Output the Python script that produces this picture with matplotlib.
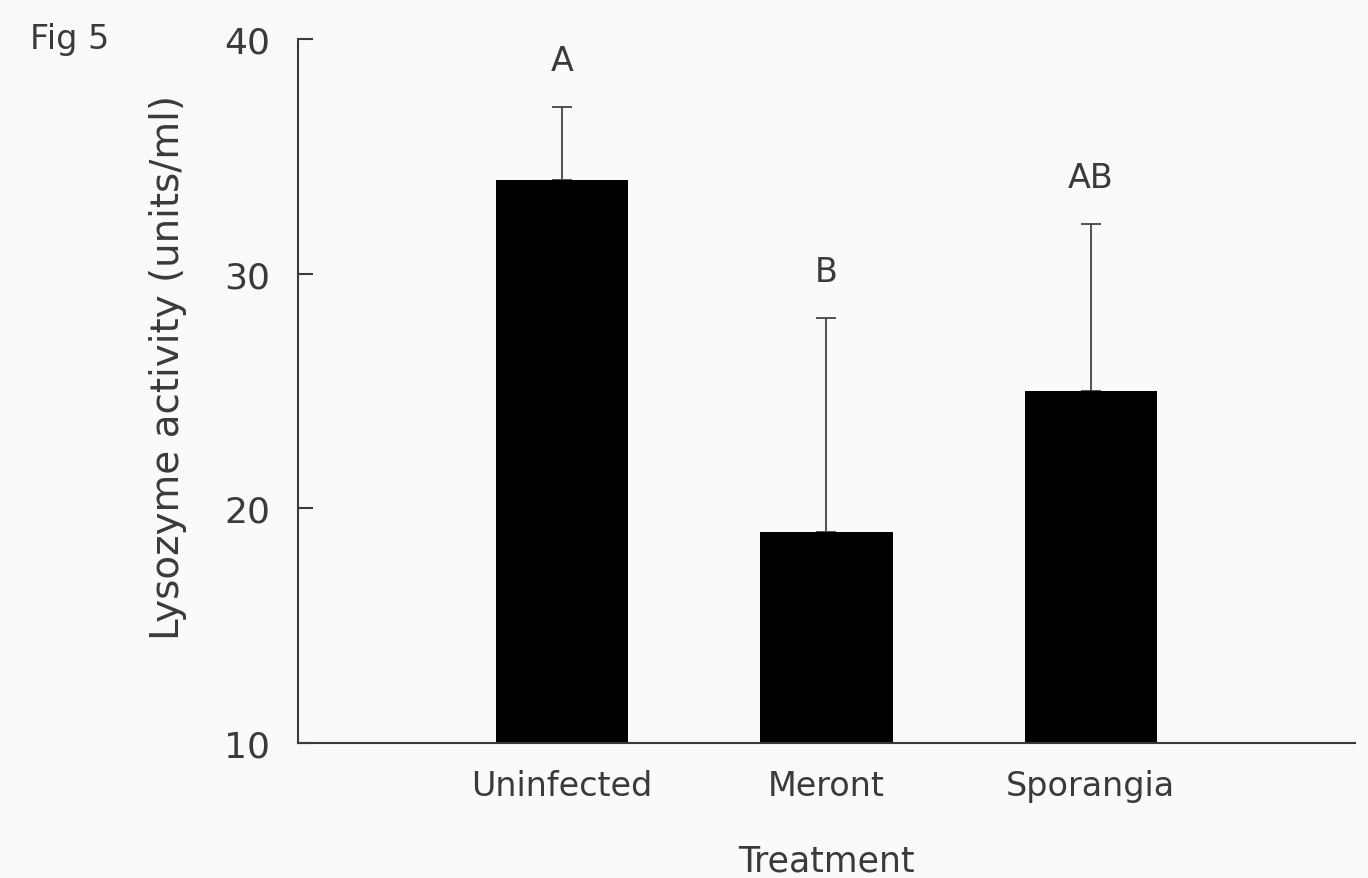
import numpy as np
import matplotlib
matplotlib.use("Agg")
from matplotlib import pyplot as plt

# data
treatments = ["Uninfected", "Meront", "Sporangia"]
lysozyme = [34.0, 19.0, 25.0]
err_up = [3.1, 9.1, 7.1]
letters = ["A", "B", "AB"]
yticks = [10, 20, 30, 40]

plt.rcParams['font.family'] = ['DejaVu Sans']
ink = "#3a3a3a"
bg = "#fbf9fa"

fig = plt.figure(figsize=(13.68, 8.79), dpi=100, facecolor=bg)
ax = fig.add_axes([0.2178, 0.1536, 0.7727, 0.8009])
ax.set_facecolor(bg)

x = np.arange(1, len(treatments) + 1)
ax.bar(x, lysozyme, width=0.5, color="black", zorder=2)
ax.errorbar(x, lysozyme, yerr=[np.zeros(len(x)), err_up], fmt="none",
            ecolor="#444444", elinewidth=1.3, capsize=7, capthick=1.3, zorder=1)

# significance letters just above the error bars
for xi, v, e, lab in zip(x, lysozyme, err_up, letters):
    ax.text(xi, v + e + 2.0, lab, ha="center", va="center", fontsize=24, color=ink)

ax.set_xlim(0, 4)
ax.set_ylim(10, 40)
ax.set_yticks(yticks)
ax.set_xticks(x)
ax.set_xticklabels(treatments)

for s in ["top", "right"]:
    ax.spines[s].set_visible(False)
for s in ["left", "bottom"]:
    ax.spines[s].set_color(ink)
    ax.spines[s].set_linewidth(1.5)

ax.tick_params(axis="y", direction="in", length=11, width=1.5, color=ink,
               labelsize=26, labelcolor=ink, pad=20)
ax.tick_params(axis="x", length=0, labelsize=24, labelcolor=ink, pad=19)

ax.set_ylabel("Lysozyme activity (units/ml)", fontsize=28, color=ink)
ax.yaxis.set_label_coords(-0.105, 0.535)
ax.set_xlabel("Treatment", fontsize=25, color=ink)
ax.xaxis.set_label_coords(0.5, -0.143)

fig.text(30 / 1368, 1 - 40 / 879, "Fig 5", fontsize=24, color=ink, va="center", ha="left")

fig.savefig("out.png", dpi=100, facecolor=bg)
